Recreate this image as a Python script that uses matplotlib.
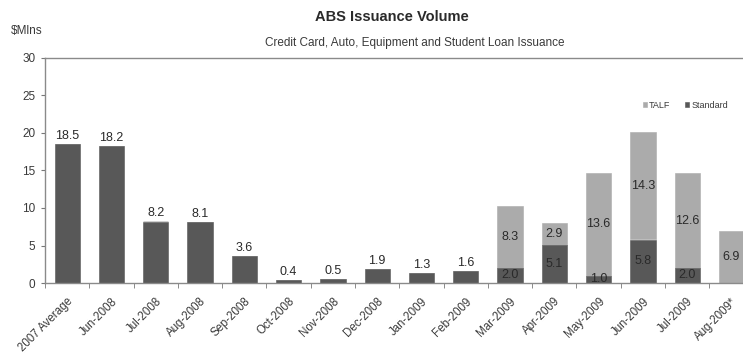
import matplotlib
matplotlib.use("Agg")
import matplotlib.pyplot as plt
import numpy as np

plt.rcParams['font.family'] = ['Liberation Sans', 'DejaVu Sans']

categories = ["2007 Average", "Jun-2008", "Jul-2008", "Aug-2008", "Sep-2008", "Oct-2008",
              "Nov-2008", "Dec-2008", "Jan-2009", "Feb-2009", "Mar-2009", "Apr-2009",
              "May-2009", "Jun-2009", "Jul-2009", "Aug-2009*"]
standard = [18.5, 18.2, 8.2, 8.1, 3.6, 0.4, 0.5, 1.9, 1.3, 1.6, 2.0, 5.1, 1.0, 5.8, 2.0, 0.0]
talf = [0, 0, 0, 0, 0, 0, 0, 0, 0, 0, 8.3, 2.9, 13.6, 14.3, 12.6, 6.9]
yticks = [0, 5, 10, 15, 20, 25, 30]

dark = "#585858"
light = "#ababab"
txt = "#3a3a3a"

fig = plt.figure(figsize=(7.43, 3.61), dpi=100)
ax = fig.add_axes([45 / 743, 1 - 283 / 361, 1 - 45 / 743, (283 - 58) / 361])

x = np.arange(len(categories))
w = 0.57
std = np.array(standard)
tf = np.array(talf)
ax.bar(x, std, w, color=dark, edgecolor=dark, linewidth=0.4, label="Standard", zorder=2)
ax.bar(x, tf, w, bottom=std, color=light, edgecolor=light, linewidth=0.4, label="TALF", zorder=1)

for i, (s, t) in enumerate(zip(std, tf)):
    if t > 0:
        if s > 0:
            ax.text(i, s / 2, f"{s:.1f}", ha="center", va="center", fontsize=9, color="#2a2a2a", zorder=3)
        ax.text(i, s + t / 2, f"{t:.1f}", ha="center", va="center", fontsize=9, color="#2a2a2a", zorder=3)
    else:
        ax.text(i, s + 0.3, f"{s:.1f}", ha="center", va="bottom", fontsize=9, color="#2a2a2a", zorder=3)

ax.set_ylim(0, 30)
ax.set_xlim(-0.5, 15.26)
ax.set_yticks(yticks)
ax.set_yticklabels([str(v) for v in yticks], fontsize=8.5, color=txt)
ax.set_xticks(x)
ax.set_xticklabels(categories, rotation=45, ha="right", rotation_mode="anchor",
                   fontsize=8.3, color=txt)
ax.tick_params(axis="x", length=0, pad=9)
ax.set_xticks(np.arange(-0.5, 15.5, 1.0), minor=True)
ax.tick_params(axis="x", which="minor", length=3.5, color="#777777", direction="out")
ax.tick_params(axis="y", length=3, color="#777777", direction="out", pad=4)

for side in ["left", "top", "bottom"]:
    ax.spines[side].set_color("#8a8a8a")
    ax.spines[side].set_linewidth(1.0)
ax.spines["right"].set_visible(False)

handles, labels = ax.get_legend_handles_labels()
leg = ax.legend(handles[::-1], labels[::-1], loc="upper right", bbox_to_anchor=(0.99, 0.845),
                ncol=2, frameon=False, fontsize=6.5, handlelength=0.5, handleheight=0.5,
                handletextpad=0.2, columnspacing=1.6)
for t in leg.get_texts():
    t.set_color(txt)

fig.text(392 / 743, 0.952, "ABS Issuance Volume", ha="center", va="center", fontsize=10.5,
         fontweight="bold", color="#2a2a2a")
fig.text(415 / 743, 0.880, "Credit Card, Auto, Equipment and Student Loan Issuance", ha="center",
         va="center", fontsize=8.5, color=txt)
fig.text(0.014, 0.915, "$Mlns", ha="left", va="center", fontsize=8.5, color=txt)

fig.savefig("out.png", dpi=100)
